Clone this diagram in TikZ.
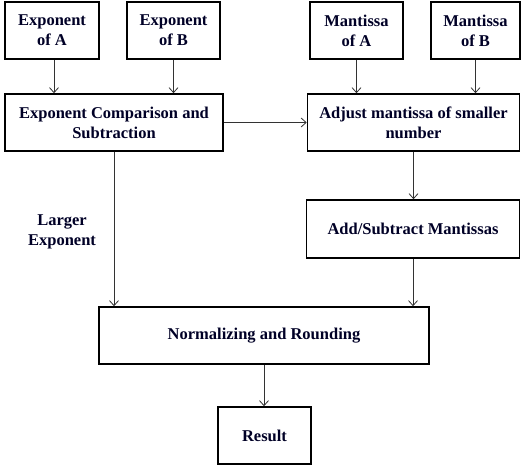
\documentclass[tikz,border=0pt]{standalone}
\usepackage{fontspec}
\setmainfont{Liberation Serif}
\usetikzlibrary{arrows.meta}
\begin{document}
\begin{tikzpicture}[x=1bp,y=-1bp,
  box/.style={draw=black, line width=1.6bp, minimum height=57bp, inner sep=2bp,
    align=center, font=\fontsize{16.5bp}{20bp}\selectfont\bfseries, text=black!85!blue},
  lbl/.style={align=center, font=\fontsize{16.5bp}{20bp}\selectfont\bfseries, text=black!85!blue},
  conn/.style={draw=black!80, line width=0.8bp, -{Straight Barb[length=5bp,width=9bp]}}]
\useasboundingbox (0,0) rectangle (521,468);
\node[box, minimum width=94bp] (eA) at (52,30.5) {Exponent\\of A};
\node[box, minimum width=93bp] (eB) at (173.5,30.5) {Exponent\\of B};
\node[box, minimum width=93bp] (mA) at (356.5,30.5) {Mantissa\\of A};
\node[box, minimum width=89bp] (mB) at (475.5,30.5) {Mantissa\\of B};
\node[box, minimum width=218bp] (comp) at (114,122.5) {Exponent Comparison and\\Subtraction};
\node[box, minimum width=212bp] (adj) at (413.5,122.5) {Adjust mantissa of smaller\\number};
\node[box, minimum width=213bp, minimum height=58bp] (add) at (413,229) {Add/Subtract Mantissas};
\node[box, minimum width=330bp] (norm) at (264,335.5) {Normalizing and Rounding};
\node[box, minimum width=93bp] (res) at (264.5,435.5) {Result};
\node[lbl] (larger) at (62,232) {Larger\\Exponent};
\draw[conn] (eA.south -| 54,0) -- (comp.north -| 54,0);
\draw[conn] (eB.south) -- (eB.south |- comp.north);
\draw[conn] (mA.south) -- (mA.south |- adj.north);
\draw[conn] (mB.south) -- (mB.south |- adj.north);
\draw[conn] (comp.east) -- (comp.east -| adj.west);
\draw[conn] (adj.south) -- (adj.south |- add.north);
\draw[conn] (comp.south) -- (comp.south |- norm.north);
\draw[conn] (add.south) -- (add.south |- norm.north);
\draw[conn] (norm.south) -- (norm.south |- res.north);
\end{tikzpicture}
\end{document}
